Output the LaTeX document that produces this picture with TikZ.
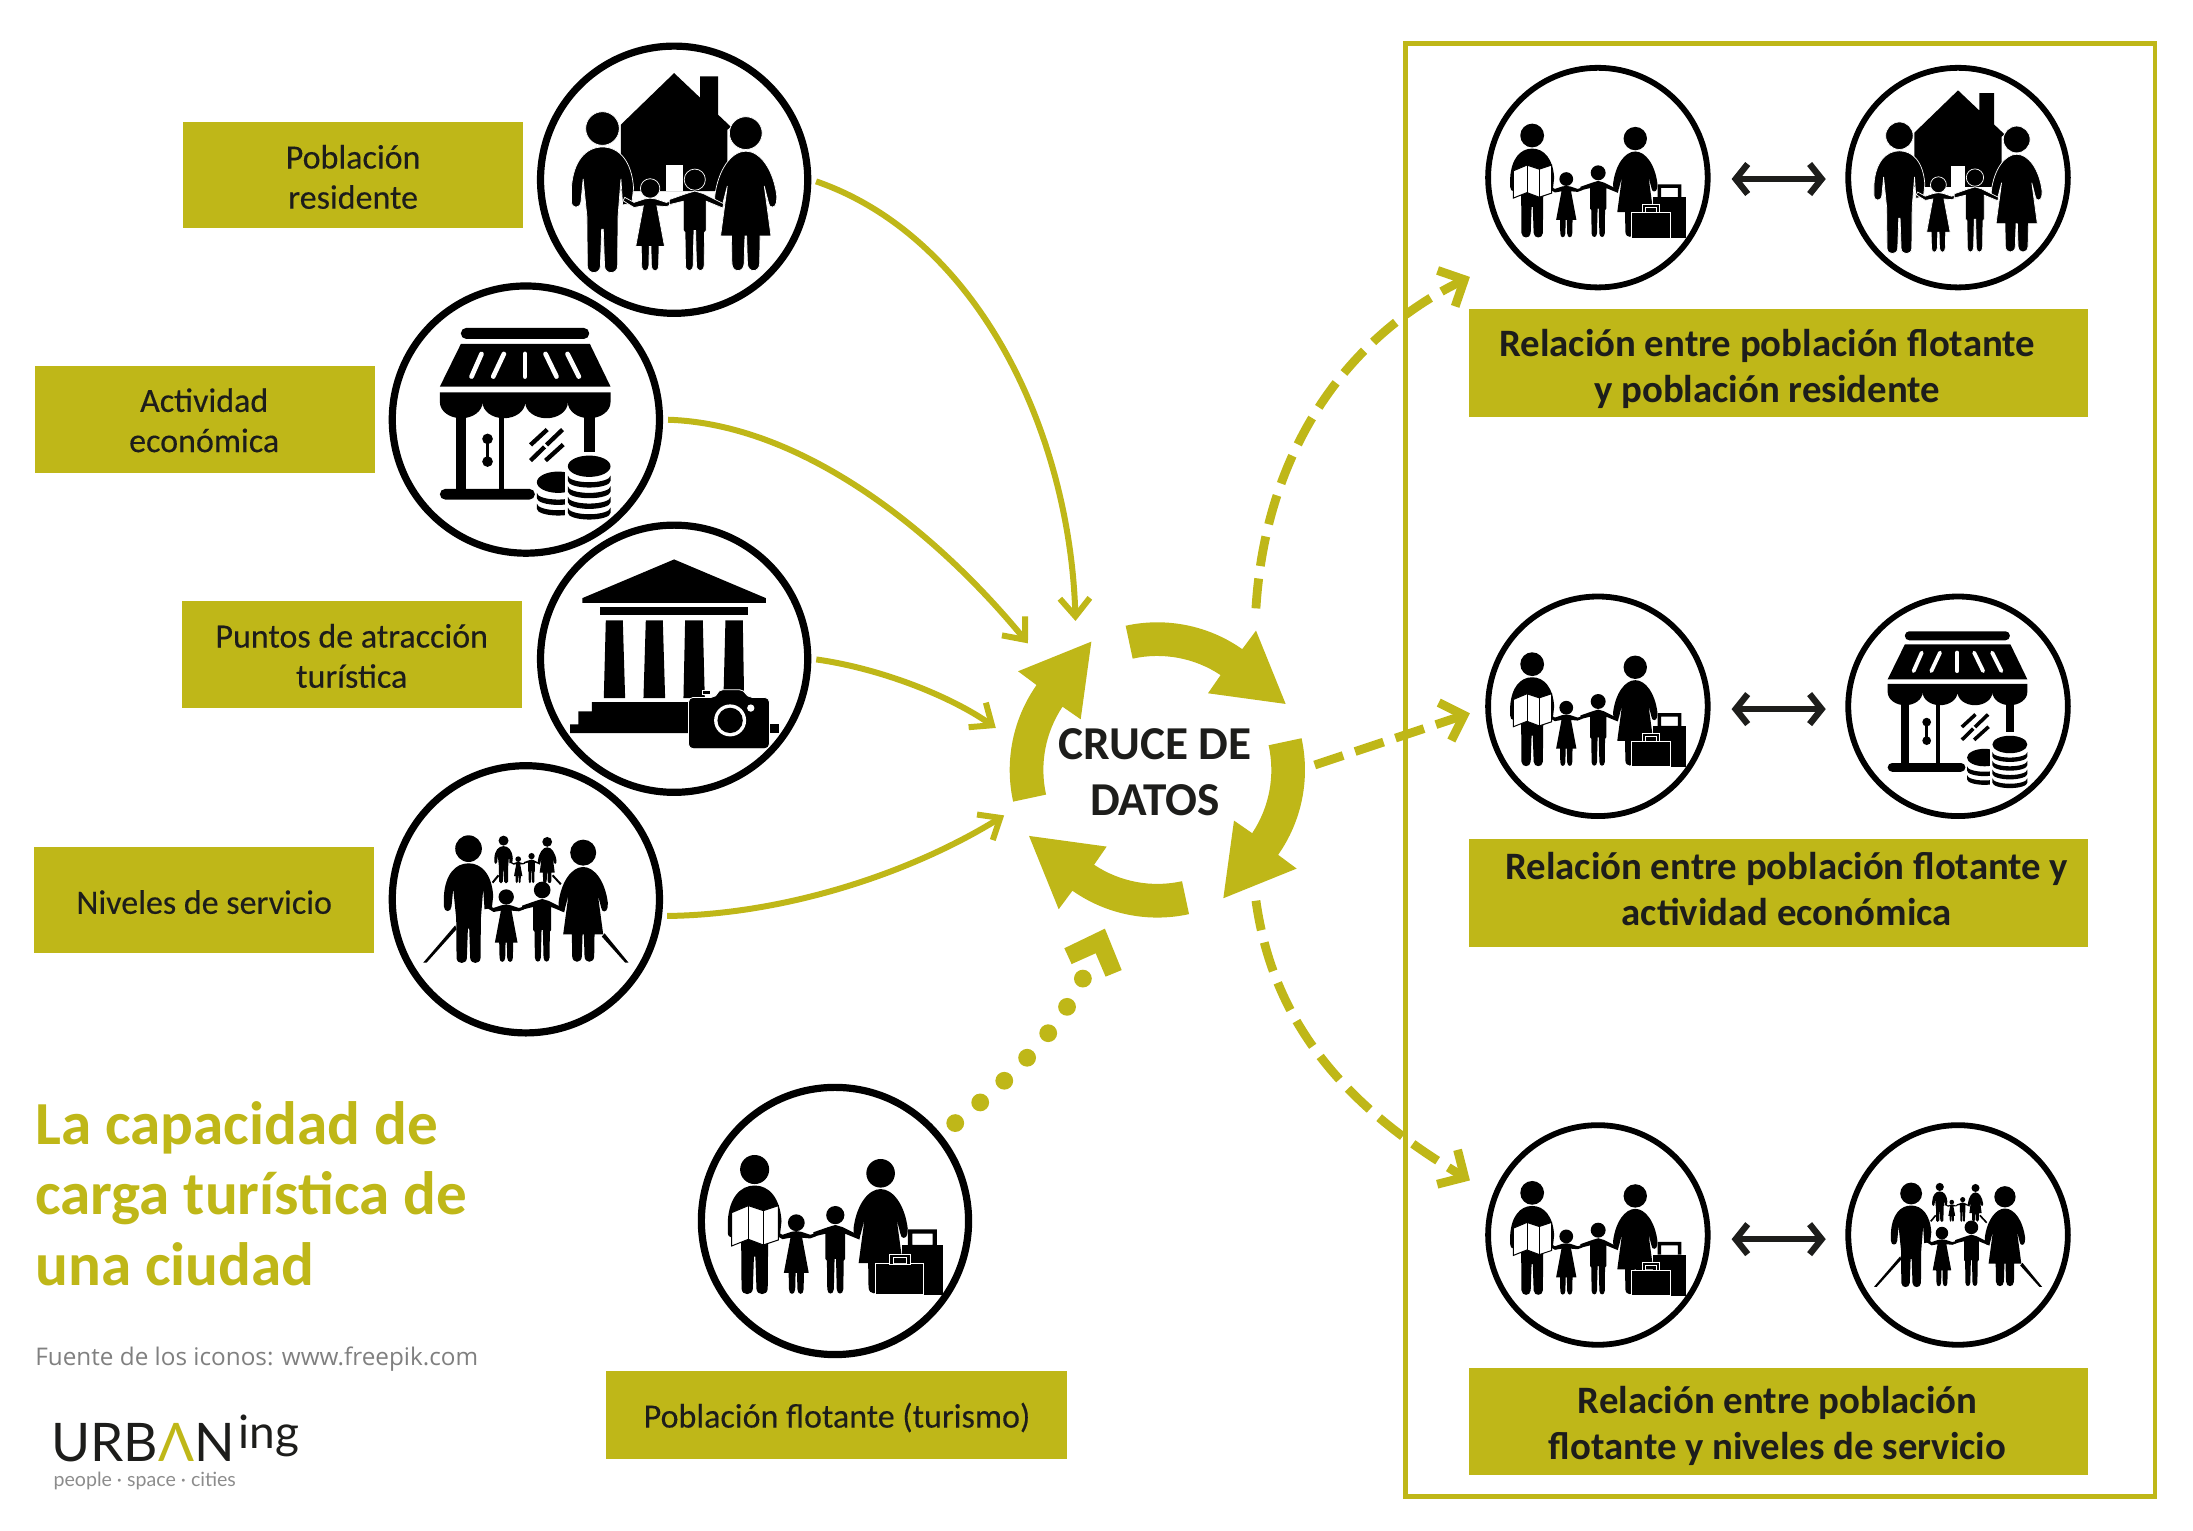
\documentclass[tikz,border=0pt]{standalone}
\usepackage{fontspec}
\setmainfont{Carlito}
\newfontfamily\semifont[FakeBold=0.25]{Carlito}
\newfontfamily\logofont{Lato}
\newfontfamily\notefont{Open Sans}
\usetikzlibrary{arrows.meta,calc}
\definecolor{olv}{HTML}{BFB718}
\definecolor{ink}{HTML}{1D1D1B}
\def\IS{0.2383}
\newcommand\lw[1]{#1*\IS*0.6993pt}
\newcommand\figman[3]{\begin{scope}[shift={(#1,#2)},scale=#3]
\path[fig] (0,40) circle[radius=40];
\path[fig] (0,84) .. controls (-40,84) and (-70,118) .. (-74,182) -- (-74,213) .. controls (-74,232) and (-52,232) .. (-51,213) -- (-46,160) -- (-37,250) -- (-36,368) .. controls (-35,388) and (-6,388) .. (-5,368) -- (-2,280) -- (2,280) -- (5,368) .. controls (6,388) and (35,388) .. (36,368) -- (37,250) -- (44,160) -- (48,222) -- (70,218) -- (74,182) .. controls (70,118) and (40,84) .. (0,84) -- cycle;
\end{scope}}
\newcommand\figwoman[3]{\begin{scope}[shift={(#1,#2)},scale=#3]
\path[fig] (0,39) circle[radius=39];
\path[fig] (0,82) .. controls (-34,82) and (-66,125) .. (-74,190) -- (-73,204) .. controls (-71,219) and (-55,219) .. (-54,204) -- (-44,165) -- (-60,284) -- (-34,284) -- (-33,350) .. controls (-32,372) and (-5,372) .. (-4,350) -- (-2,284) -- (2,284) -- (4,350) .. controls (5,372) and (32,372) .. (33,350) -- (34,284) -- (60,284) -- (44,165) -- (54,204) .. controls (55,219) and (71,219) .. (73,204) -- (74,190) .. controls (66,125) and (34,82) .. (0,82) -- cycle;
\end{scope}}
\newcommand\figgirl[3]{\begin{scope}[shift={(#1,#2)},scale=#3]
\path[fig] (0,23) circle[radius=23];
\path[fig] (0,46) -- (-14,48) -- (-38,56) -- (-60,44) -- (-64,52) -- (-38,68) -- (-16,64) -- (-34,160) -- (-21,160) -- (-20,205) .. controls (-20,222) and (-4,222) .. (-3,205) -- (-2,160) -- (2,160) -- (3,205) .. controls (4,222) and (20,222) .. (20,205) -- (21,160) -- (34,160) -- (16,64) -- (38,66) -- (54,60) -- (52,52) -- (38,56) -- (14,48) -- cycle;
\end{scope}}
\newcommand\figboy[3]{\begin{scope}[shift={(#1,#2)},scale=#3]
\path[fig] (0,25) circle[radius=25];
\path[fig] (0,52) -- (-20,58) -- (-60,72) -- (-60,84) -- (-27,76) -- (-27,145) -- (-23,150) -- (-22,228) .. controls (-21,244) and (-5,244) .. (-4,228) -- (-2,145) -- (2,145) -- (4,228) .. controls (5,244) and (21,244) .. (22,228) -- (23,150) -- (27,145) -- (27,76) -- (66,92) -- (68,82) -- (20,58) -- cycle;
\end{scope}}
\newcommand\coinband[3]{\fill (#1-64,#2) arc[start angle=180,end angle=0,x radius=64,y radius=20] -- ++(0,#3) arc[start angle=0,end angle=180,x radius=64,y radius=20] -- cycle;}
\tikzset{
 fig/.style={fill=black},
 tagbox/.style={fill=olv,inner sep=0pt},
 tagl/.style={tagbox,minimum width=170pt,minimum height=53.1pt},
 tagr/.style={tagbox,minimum width=309.8pt,minimum height=53.8pt},
 txtl/.style={text=ink,align=center,inner sep=0pt,font=\semifont\fontsize{17pt}{20.1pt}\selectfont},
 txtr/.style={text=ink,align=center,inner sep=0pt,font=\fontsize{19.4pt}{23pt}\selectfont\bfseries},
 bigc/.style={circle,draw=black,fill=white,line width=3.6pt,minimum size=133.6pt,inner sep=0pt},
 smallc/.style={circle,draw=black,fill=white,line width=2.9pt,minimum size=109.8pt,inner sep=0pt},
 conn/.style={draw=olv,line width=3pt,-{Straight Barb[length=9pt,width=15pt]}},
 dashconn/.style={draw=olv,line width=4.4pt,dash pattern=on 15pt off 6.3pt,-{Straight Barb[length=10pt,width=20pt]}},
 dbl/.style={draw=ink,line width=3.2pt,{Straight Barb[length=6pt,width=15pt]}-{Straight Barb[length=6pt,width=15pt]},shorten <=10.5pt,shorten >=9.8pt},
 house/.pic={
  \fill (0,-320) -- (78,-246) -- (78,-310) -- (132,-310) -- (132,-195) -- (170,-159) -- (160,-150) -- (160,34) -- (-160,34) -- (-160,-165) -- cycle;
  \fill[white] (-25,-43) rectangle (27,34);
  \begin{scope}[fig/.style={fill=black,draw=white,line width=.35pt}]
  \figman{-215}{-204}{1.26}\figwoman{215}{-189}{1.26}\figgirl{-72}{-3}{1.27}\figboy{62}{-32}{1.27}
  \end{scope}},
 shop/.pic={
  \fill[rounded corners=\lw{16}] (-195,-275) rectangle (190,-242);
  \fill (-195,-227) -- (192,-227) -- (254,-99) -- (-258,-99) -- cycle;
  \begin{scope}[white,line cap=round,line width=\lw{14}]
  \draw (-133,-197) -- (-163,-129); \draw (-66,-197) -- (-98,-129); \draw (-3,-197) -- (-3,-129); \draw (59,-197) -- (92,-129); \draw (125,-197) -- (159,-129);
  \end{scope}
  \fill (-258,-82) -- (254,-82) -- (254,-52) arc[start angle=0,end angle=180,x radius=64,y radius=48] arc[start angle=0,end angle=180,x radius=64,y radius=48] arc[start angle=0,end angle=180,x radius=64,y radius=48] arc[start angle=0,end angle=180,x radius=64,y radius=48] -- cycle;
  \fill (-210,-20) rectangle (-180,208); \fill (-82,-20) rectangle (-66,208); \fill (174,-20) rectangle (206,96);
  \fill[rounded corners=\lw{16}] (-258,208) rectangle (27,240);
  \fill (-115,58) circle[radius=16]; \fill (-115,126) circle[radius=16]; \draw[line width=\lw{9}] (-115,58) -- (-115,126);
  \begin{scope}[line width=\lw{13}]
  \draw (14,76) -- (64,30); \draw (14,123) -- (56,82); \draw (62,76) -- (110,30); \draw (59,123) -- (112,75);
  \end{scope}
  \begin{scope}
  \clip (30,140) rectangle (117,320);
  \fill (97,188) circle[x radius=64,y radius=32];
  \coinband{97}{220}{16}\coinband{97}{252}{16}
  \end{scope}
  \fill (190,140) circle[x radius=64,y radius=32];
  \coinband{190}{168}{16}\coinband{190}{200}{16}\coinband{190}{232}{16}\coinband{190}{264}{16}},
 temple/.pic={
  \fill (0,-298) -- (275,-182) -- (275,-168) -- (-275,-168) -- (-275,-182) -- cycle;
  \fill (-222,-155) rectangle (222,-130);
  \fill (-205,-115) -- (-154,-115) -- (-147,118) -- (-211,118) -- cycle;
  \fill (-85,-115) -- (-34,-115) -- (-27,118) -- (-92,118) -- cycle;
  \fill (33,-115) -- (86,-115) -- (92,118) -- (28,118) -- cycle;
  \fill (154,-115) -- (206,-115) -- (210,118) -- (148,118) -- cycle;
  \fill (-312,223) -- (-312,197) -- (-287,197) -- (-287,158) -- (-247,158) -- (-247,130) -- (100,130) -- (100,223) -- cycle;
  \fill (260,197) rectangle (314,223);
  \path[fill=black,draw=white,line width=.4pt,rounded corners=\lw{14}] (43,116) -- (125,116) -- (132,93) -- (210,93) -- (220,116) -- (286,116) -- (286,270) -- (43,270) -- cycle;
  \path[fill=black,draw=white,line width=.4pt] (85,95) rectangle (110,107);
  \fill[white] (168,185) circle[radius=48]; \fill (168,185) circle[radius=38]; \fill[white] (230,148) circle[radius=11];},
 tourist/.pic={
  \figman{-241}{-198}{1.09}\figwoman{137}{-186}{1.10}\figgirl{-116}{-20}{1.096}\figboy{1}{-45}{1.095}
  \path[fill=white,draw=black,line width=.5pt] (-310,-25) -- (-260,-46) -- (-215,-31) -- (-170,-46) -- (-170,57) -- (-215,72) -- (-260,55) -- (-310,75) -- cycle;
  \draw[line width=.5pt] (-260,-46) -- (-260,55); \draw[line width=.5pt] (-215,-31) -- (-215,72);
  \fill[even odd rule] (219,25) rectangle (306,72) (232,38) rectangle (293,72);
  \path[fill=black] (202,72) rectangle (323,222);
  \path[fill=black,draw=white,line width=.5pt] (123,129) rectangle (265,222);
  \path[fill=black,draw=white,line width=.4pt,even odd rule] (163,99) rectangle (227,129) (175,110) rectangle (215,129);},
 service/.pic={
  \fill (-308,190) -- (-298,190) -- (-208,90) -- (-212,78) -- cycle;
  \fill (308,190) -- (298,190) -- (228,112) -- (236,102) -- cycle;
  \draw[line width=\lw{6}] (-100,-50) -- (-82,-72); \draw[line width=\lw{6}] (80,-72) -- (105,-45);
  \figman{-67}{-191}{.374}\figwoman{64}{-187}{.377}\figgirl{-23}{-129}{.37}\figboy{17}{-139}{.378}
  \figman{-172}{-192}{1}\figwoman{172}{-179}{1}\figgirl{-59}{-30}{1}\figboy{49}{-53}{1}},
}
\newcommand\iconat[3]{\def\IS{#2}\pic[scale=#2] at (#1) {#3};}
\begin{document}
\begin{tikzpicture}[x=0.6993pt,y=-0.6993pt]
\useasboundingbox (0,0) rectangle (1568,1094);
% frame
\draw[olv,line width=2.2pt] (1005,31) rectangle (1541,1070);
% left boxes
\node[tagl] (b1) at (252.5,125) {};
\node[tagl] (b2) at (146.5,300) {};
\node[tagl] (b3) at (251.5,468) {};
\node[tagl] (b4) at (146,643.5) {};
\node[tagl,minimum width=230.8pt,minimum height=44pt] (b5) at (598,1011.5) {};
\node[txtl] (b1t) at (252.5,126.5) {Población\\residente};
\node[txtl] (b2t) at (146,300.5) {Actividad\\económica};
\node[txtl] (b3t) at (251.5,469) {Puntos de atracción\\turística};
\node[txtl] (b4t) at (146,645) {Niveles de servicio};
\node[txtl] (b5t) at (598.5,1013.5) {Población flotante (turismo)};
% right boxes
\node[tagr] (r1) at (1271.5,259.5) {};
\node[tagr] (r2) at (1271.5,638.5) {};
\node[tagr] (r3) at (1271.5,1016.5) {};
\node[txtr] (r1t) at (1263.5,264) {Relación entre población flotante\\y población residente};
\node[txtr] (r2t) at (1277.5,636) {Relación entre población flotante y\\actividad económica};
\node[txtr] (r3t) at (1271,1019.5) {Relación entre población\\flotante y niveles de servicio};
% big circles
\node[bigc] (c1) at (482,128.5) {};
\node[bigc] (c2) at (376,300) {};
\node[bigc] (c3) at (482,471) {};
\node[bigc] (c4) at (376,643) {};
\node[bigc] (c5) at (597,873) {};
\iconat{c1}{0.2383}{house}
\iconat{c2}{0.2383}{shop}
\iconat{c3}{0.2383}{temple}
\iconat{c4}{0.2383}{service}
\iconat{c5}{0.2383}{tourist}
% small circles
\foreach \n/\xx/\yy in {la/1142.5/127,lb/1142.5/505,lc/1142.5/883,ra/1400/127,rb/1400/505,rc/1400/883}{
 \node[smallc] (\n) at (\xx,\yy) {};}
\iconat{la}{0.195}{tourist}
\iconat{lb}{0.195}{tourist}
\iconat{lc}{0.195}{tourist}
\iconat{ra}{0.195}{house}
\iconat{rb}{0.195}{shop}
\iconat{rc}{0.195}{service}
\draw[dbl] ($(la.east)+(0,1)$) -- ($(ra.west)+(0,1)$);
\draw[dbl] ($(lb.east)+(0,2)$) -- ($(rb.west)+(0,2)$);
\draw[dbl] ($(lc.east)+(0,3)$) -- ($(rc.west)+(0,3)$);
% ring
\foreach \k in {0,1,2,3}{
 \begin{scope}[shift={(827.5,550.5)},scale=0.2383,yscale=-1,rotate=-90*\k]
 \fill[olv] (102.4:443) arc[start angle=102.4,end angle=54.9,radius=443] -- (296,418) -- (385,198) -- (152,230) -- (56.3:342) arc[start angle=56.3,end angle=102.5,radius=342] -- cycle;
 \end{scope}}
\node[text=ink,align=center,inner sep=0pt,font=\fontsize{23.6pt}{28.2pt}\selectfont\bfseries] (cruce) at (826,552) {CRUCE DE\\DATOS};
% free ends
\coordinate (e1) at (769,444);
\coordinate (e2) at (735,460);
\coordinate (e3) at (712,520.5);
\coordinate (e4) at (718,583);
\coordinate (s5) at (898,435);
\coordinate (t5) at (1051,198);
\coordinate (s6) at (940,547);
\coordinate (t6) at (1051,510);
\coordinate (s7) at (898,644);
\coordinate (t7) at (1051,844);
\coordinate (s8) at (683,803);
\coordinate (t8) at (776,696);
% input arrows
\draw[conn,shorten <=2.5pt] (c1.east) .. controls (700,170) and (765,310) .. (e1);
\draw[conn,shorten <=2.5pt] (c2.east) .. controls (570,303) and (665,375) .. (e2);
\draw[conn,shorten <=2.5pt] (c3.east) .. controls (630,478) and (680,498) .. (e3);
\draw[conn,shorten <=2.5pt] (c4.-7) .. controls (560,654) and (650,625) .. (e4);
% output arrows
\draw[dashconn] (s5) .. controls (905,320) and (965,240) .. (t5);
\draw[dashconn] (s6) -- (t6);
\draw[dashconn] (s7) .. controls (910,730) and (960,790) .. (t7);
% dotted
\draw[olv,line width=8.9pt,line cap=round,dash pattern=on 0pt off 16.2pt] (s8) .. controls (718,775) and (756,740) .. (t8);
\fill[olv] (790,664) -- (802,693.6) -- (790.5,698.3) -- (783.4,681.6) -- (766.2,689.3) -- (761,678) -- cycle;
% title
\node[anchor=north west,align=left,text=olv,inner sep=0pt,font=\fontsize{30.6pt}{35.3pt}\selectfont\bfseries] (title) at (25,787) {La capacidad de\\carga turística de\\una ciudad};
\node[anchor=base west,inner sep=0pt,text=black!50,font=\notefont\fontsize{12.15pt}{15pt}\selectfont] (src) at (25,976) {Fuente de los iconos: www.freepik.com};
% logo
\node[anchor=base west,inner sep=0pt,text=ink,font=\logofont\fontsize{26.6pt}{30pt}\selectfont] (logo) at (36.5,1045) {URB\textcolor{olv}{Λ}N};
\node[anchor=base west,inner sep=0pt,text=ink,font=\logofont\fontsize{23pt}{26pt}\selectfont] (logoing) at ($(logo.base east)+(2,-9)$) {ing};
\node[anchor=base west,inner sep=0pt,text=black!45,font=\logofont\fontsize{9.8pt}{12pt}\selectfont] (tag) at (38,1063) {people · space · cities};
\end{tikzpicture}
\end{document}
